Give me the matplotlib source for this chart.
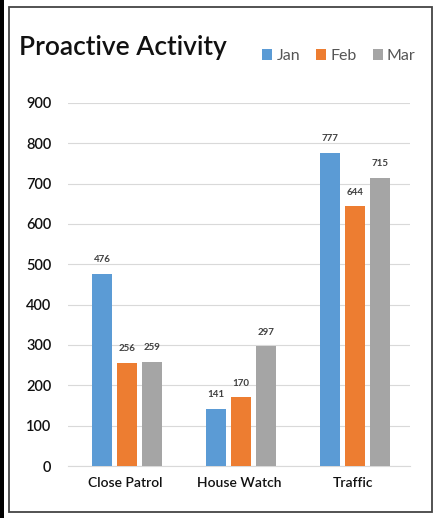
import matplotlib
matplotlib.use("Agg")
import matplotlib.pyplot as plt
from matplotlib.patches import Rectangle
import numpy as np

categories = ["Close Patrol", "House Watch", "Traffic"]
series_names = ["Jan", "Feb", "Mar"]
jan = [476, 141, 777]
feb = [256, 170, 644]
mar = [259, 297, 715]
yticks = [0, 100, 200, 300, 400, 500, 600, 700, 800, 900]
colors = ["#5B9BD5", "#ED7D31", "#A5A5A5"]

plt.rcParams['font.family'] = ['Lato', 'DejaVu Sans']

W, H = 437, 518
fig = plt.figure(figsize=(W/100, H/100), dpi=100)
fig.patch.set_facecolor("white")

# borders
fig.add_artist(Rectangle((0, 0), 4/W, 1, transform=fig.transFigure, facecolor="black", edgecolor="none"))
fig.add_artist(Rectangle((9/W, 6/H), 423/W, 505/H, transform=fig.transFigure,
                         facecolor="none", edgecolor="#444444", linewidth=1.3))

ax = fig.add_axes([68/W, 1-466/H, (410-68)/W, (466-103)/H])
x = np.arange(len(categories))
bw = 0.175
off = 0.22
for i, (vals, name) in enumerate(zip([jan, feb, mar], series_names)):
    pos = x + (i-1)*off + 0.02
    ax.bar(pos, vals, width=bw, color=colors[i], label=name, zorder=3)
    for p, v in zip(pos, vals):
        ax.text(p, v + 24, str(v), ha="center", va="bottom", fontsize=7,
                fontweight="bold", color="#404040")

ax.set_xlim(-0.5, 2.5)
ax.set_ylim(0, 900)
ax.set_yticks(yticks)
ax.set_yticklabels([str(t) for t in yticks], fontsize=10.5, color="#111111", fontweight="semibold")
ax.set_xticks(x)
ax.set_xticklabels(categories, fontsize=10, color="#111111", fontweight="semibold")
ax.tick_params(axis="both", length=0)
ax.tick_params(axis="y", pad=12)
ax.tick_params(axis="x", pad=8)
ax.grid(axis="y", color="#D9D9D9", linewidth=0.8, zorder=0)
for s in ["top", "right", "left"]:
    ax.spines[s].set_visible(False)
ax.spines["bottom"].set_color("#D9D9D9")

fig.text(19/W, 1-47/H, "Proactive Activity", fontsize=19, color="#111111", va="center", ha="left",
         fontweight="semibold")

leg = fig.legend(loc="center right", bbox_to_anchor=(430/W, 1-56/H), ncol=3, frameon=False,
                 fontsize=11.5, handlelength=0.65, handleheight=0.65, handletextpad=0.25,
                 columnspacing=1.0, labelcolor="#555555")

fig.savefig("out.png", dpi=100, facecolor="white")
